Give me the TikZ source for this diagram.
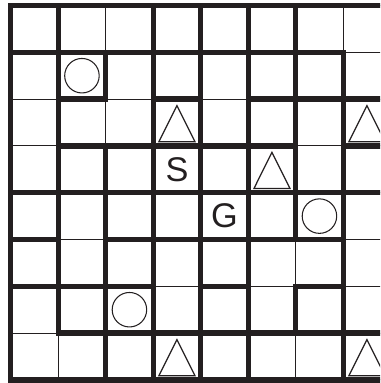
\documentclass[tikz,border=0pt]{standalone}
\usepackage{fontspec}
\setsansfont{Liberation Sans}
\usetikzlibrary{calc}
\definecolor{inkdark}{RGB}{35,31,32}

\begin{document}
\begin{tikzpicture}[
  x=0.95cm, y=-0.936cm,
  thinwall/.style={
    draw=inkdark, line width=0.6pt
  },
  thickwall/.style={
    draw=inkdark, line width=3pt, line cap=rect, line join=miter
  },
  ring/.style={
    draw=inkdark, circle, line width=0.6pt,
    minimum size=0.69cm, inner sep=0pt
  },
  sign/.style={draw=inkdark, line width=0.7pt, line join=miter},
  letter/.style={
    font=\sffamily\fontsize{19.5}{20}\selectfont, text=inkdark, inner sep=0pt
  },
]

%% ---- Frame of the picture ----
\clip (-0.225,-0.1175) rectangle (7.775,8.066);

%% ---- Thin cell lines ----
\foreach \k in {0,...,8} {
  \draw[thinwall] (\k,0) -- (\k,8);
  \draw[thinwall] (0,\k) -- (8,\k);
}

%% ---- Horizontal walls ----
\draw[thickwall] (0,0) -- (8,0);
\draw[thickwall] (0,1) -- (7,1);
\draw[thickwall] (1,2) -- (2,2) (3,2) -- (4,2) (5,2) -- (8,2);
\draw[thickwall] (1,3) -- (6,3) (7,3) -- (8,3);
\draw[thickwall] (0,4) -- (8,4);
\draw[thickwall] (0,5) -- (1,5) (2,5) -- (7,5);
\draw[thickwall] (0,6) -- (3,6) (4,6) -- (5,6) (6,6) -- (7,6);
\draw[thickwall] (1,7) -- (8,7);
\draw[thickwall] (0,8) -- (8,8);

%% ---- Vertical walls ----
\draw[thickwall] (0,0) -- (0,8);
\draw[thickwall] (1,0) -- (1,7);
\draw[thickwall] (2,1) -- (2,2) (2,3) -- (2,8);
\draw[thickwall] (3,0) -- (3,8);
\draw[thickwall] (4,0) -- (4,8);
\draw[thickwall] (5,0) -- (5,8);
\draw[thickwall] (6,0) -- (6,5) (6,6) -- (6,7);
\draw[thickwall] (7,1) -- (7,8);

%% ---- Start and goal ----
\node[letter] (start) at (3.5,3.5) {S};
\node[letter] (goal)  at (4.5,4.5) {G};

%% ---- Circles ----
\node[ring] (ringA) at (1.5,1.5) {};
\node[ring] (ringB) at (6.5,4.5) {};
\node[ring] (ringC) at (2.5,6.5) {};

%% ---- Triangles ----
\draw[sign] (3.5,2.14) -- (3.879,2.91) -- (3.121,2.91) -- cycle;
\draw[sign] (7.5,2.14) -- (7.879,2.91) -- (7.121,2.91) -- cycle;
\draw[sign] (5.5,3.14) -- (5.879,3.91) -- (5.121,3.91) -- cycle;
\draw[sign] (3.5,7.14) -- (3.879,7.91) -- (3.121,7.91) -- cycle;
\draw[sign] (7.5,7.14) -- (7.879,7.91) -- (7.121,7.91) -- cycle;

\end{tikzpicture}
\end{document}
